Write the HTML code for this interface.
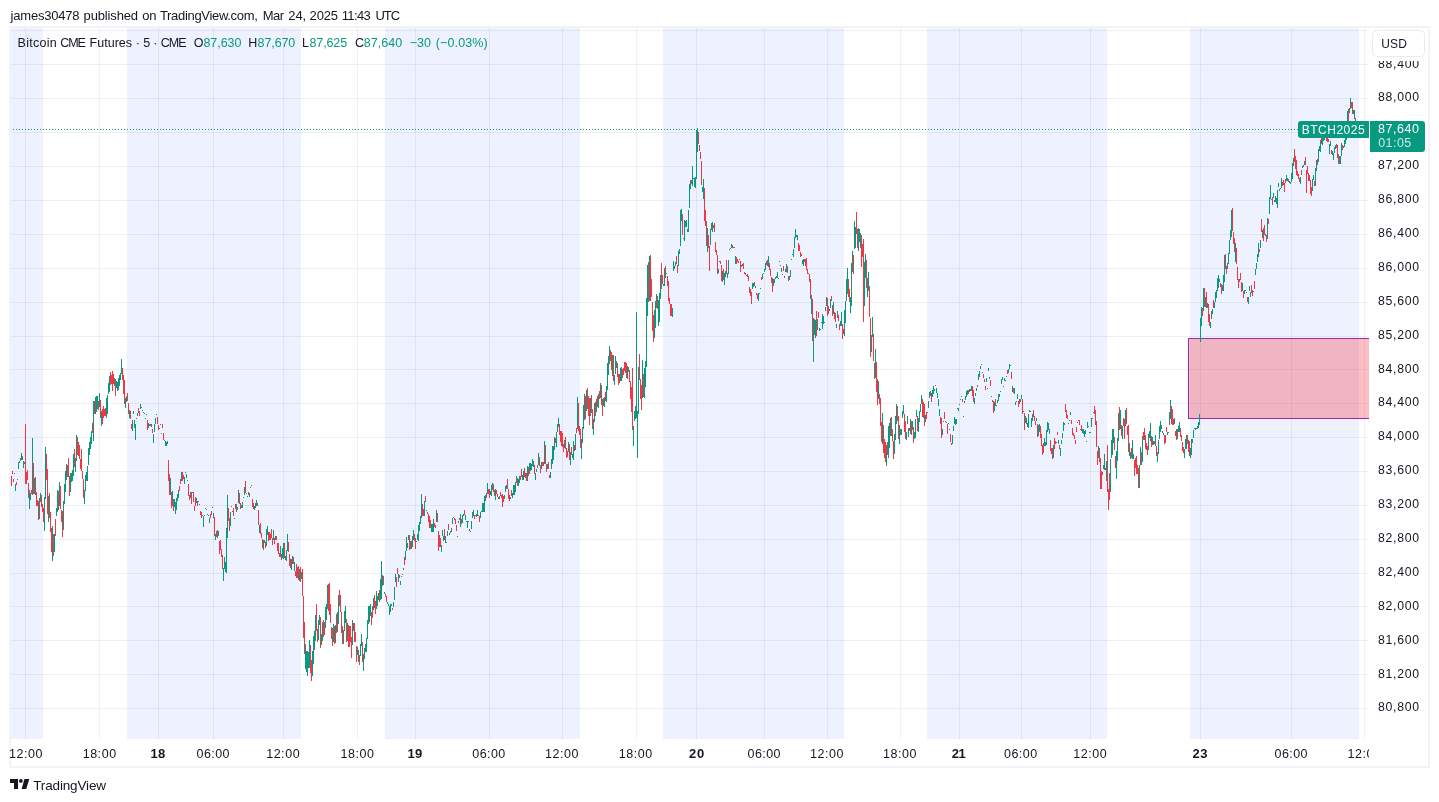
<!DOCTYPE html><html><head><meta charset="utf-8"><title>TradingView chart</title><style>
html,body{margin:0;padding:0;background:#fff}
body{width:1439px;height:802px;position:relative;overflow:hidden;font-family:"Liberation Sans",sans-serif;color:#131722}
.abs{position:absolute;white-space:nowrap}
#hdr{left:0;top:8px;font-size:13px;line-height:16px}
.w{position:absolute;top:0;white-space:nowrap}
#frame{left:9px;top:26px;width:1417px;height:738px;border:2px solid #f3f3f5;box-sizing:content-box;pointer-events:none}
#plot{left:10px;top:27px;width:1359px;height:712px;overflow:hidden}
.band{position:absolute;top:0;height:712px;background:#eef2fe}
.vg{position:absolute;top:0;width:1px;height:712px;background:rgba(42,46,57,.07)}
.hg{position:absolute;left:0;width:1359px;height:1px;background:rgba(42,46,57,.07)}
#lg{left:0;top:35px;font-size:12.5px;line-height:16px}
.g{color:#089981}
.pl{position:absolute;left:0;font-size:12.25px;line-height:14px;color:#131722}
#taxis{left:10px;top:739px;width:1359px;height:27px;overflow:hidden;font-size:12.5px;line-height:14px}
.b{font-weight:bold;font-size:13px}
#usdwrap{left:1370px;top:28px;width:58px;height:33px;background:#fff}
#usd{left:1372.2px;top:30.3px;width:51.1px;height:25.1px;border:1px solid #e9ebf0;border-radius:4.5px;box-sizing:content-box;background:#fff}
#usdt{left:0;top:36.7px;font-size:12px;line-height:14px}
#sym{left:1298px;top:121px;width:71px;height:17px;background:#089981;border-radius:3px 0 0 3px;color:#fff;font-size:12px;line-height:17px}
#symt{left:0;top:122px;font-size:12px;line-height:17px;color:#fff}
#prc{left:1370px;top:121px;width:55px;height:31px;background:#089981;border-radius:0 3px 3px 0;color:#fff;font-size:12px}
#prct{left:0;top:0;font-size:12.5px;line-height:14px;color:#fff}
#dot{left:10px;top:129px;width:1288px;height:1px;background:repeating-linear-gradient(90deg,#089981 0 1px,transparent 1px 3px)}
#box{left:1178px;top:311px;width:181px;height:81px;box-sizing:border-box;background:rgba(242,54,69,.32);border:1px solid #9c27b0;border-right:none}
#logo{left:10px;top:779px}
#tv{left:0;top:778px;font-size:13.5px;line-height:16px;color:#131722}

</style></head><body>
<div id="hdr" class="abs">
<span class="w " style="left:10.57px;letter-spacing:-0.209px;">james30478</span>
<span class="w " style="left:83.61px;letter-spacing:-0.148px;">published</span>
<span class="w " style="left:142.20px;letter-spacing:-0.270px;">on</span>
<span class="w " style="left:159.96px;letter-spacing:-0.319px;">TradingView.com,</span>
<span class="w " style="left:262.68px;letter-spacing:-0.453px;">Mar</span>
<span class="w " style="left:288.35px;letter-spacing:-0.150px;">24,</span>
<span class="w " style="left:309.60px;letter-spacing:-0.173px;">2025</span>
<span class="w " style="left:341.76px;letter-spacing:-0.643px;">11:43</span>
<span class="w " style="left:375.45px;letter-spacing:-1.060px;">UTC</span>
</div>
<div id="plot" class="abs">
<div class="band" style="left:0px;width:33px"></div>
<div class="band" style="left:117px;width:174px"></div>
<div class="band" style="left:375px;width:195px"></div>
<div class="band" style="left:653px;width:181px"></div>
<div class="band" style="left:917px;width:180px"></div>
<div class="band" style="left:1180px;width:169px"></div>
<div class="vg" style="left:15px"></div>
<div class="vg" style="left:89px"></div>
<div class="vg" style="left:148px"></div>
<div class="vg" style="left:203px"></div>
<div class="vg" style="left:273px"></div>
<div class="vg" style="left:347px"></div>
<div class="vg" style="left:405px"></div>
<div class="vg" style="left:479px"></div>
<div class="vg" style="left:552px"></div>
<div class="vg" style="left:626px"></div>
<div class="vg" style="left:686px"></div>
<div class="vg" style="left:754px"></div>
<div class="vg" style="left:817px"></div>
<div class="vg" style="left:890px"></div>
<div class="vg" style="left:949px"></div>
<div class="vg" style="left:1011px"></div>
<div class="vg" style="left:1080px"></div>
<div class="vg" style="left:1190px"></div>
<div class="vg" style="left:1281px"></div>
<div class="vg" style="left:1354px"></div>
<div class="hg" style="top:3px"></div>
<div class="hg" style="top:37px"></div>
<div class="hg" style="top:71px"></div>
<div class="hg" style="top:105px"></div>
<div class="hg" style="top:139px"></div>
<div class="hg" style="top:173px"></div>
<div class="hg" style="top:207px"></div>
<div class="hg" style="top:241px"></div>
<div class="hg" style="top:275px"></div>
<div class="hg" style="top:309px"></div>
<div class="hg" style="top:342px"></div>
<div class="hg" style="top:376px"></div>
<div class="hg" style="top:410px"></div>
<div class="hg" style="top:444px"></div>
<div class="hg" style="top:478px"></div>
<div class="hg" style="top:512px"></div>
<div class="hg" style="top:546px"></div>
<div class="hg" style="top:579px"></div>
<div class="hg" style="top:613px"></div>
<div class="hg" style="top:647px"></div>
<div class="hg" style="top:681px"></div>
<div id="box" class="abs"></div>
<svg style="position:absolute;left:0;top:0" width="1359" height="712" shape-rendering="crispEdges" fill="none"><path stroke="#f23645" stroke-width="1" d="M0.5 448V457M1.5 449V459M2.5 444V447M3.5 452V455M6.5 455V458M10.5 431V434M15.5 397V457M16.5 445V457M17.5 443V453M18.5 456V471M21.5 463V467M23.5 436V467M25.5 450V468M26.5 465V479M27.5 473V479M28.5 474V493M31.5 468V480M32.5 477V485M33.5 481V495M36.5 427V453M37.5 442V487M39.5 466V491M40.5 485V505M41.5 501V525M43.5 507V529M45.5 492V509M48.5 464V483M50.5 459V482M51.5 483V495M52.5 484V510M57.5 438V450M58.5 431V450M59.5 449V469M64.5 422V440M67.5 410V428M68.5 415V429M69.5 418V432M70.5 432V442M71.5 422V444M72.5 444V452M73.5 452V471M82.5 396V406M84.5 374V387M88.5 374V383M90.5 373V391M92.5 382V397M93.5 379V391M94.5 382V389M95.5 381V389M100.5 345V358M101.5 348V357M102.5 344V364M103.5 347V357M105.5 352V369M112.5 341V353M113.5 348V367M114.5 353V377M117.5 366V374M118.5 376V387M120.5 384V392M121.5 397V402M128.5 381V386M129.5 384V389M131.5 380V381M137.5 393V403M139.5 397V399M140.5 397V399M142.5 402V406M147.5 390V397M148.5 398V403M149.5 401V402M152.5 397V401M153.5 406V413M154.5 413V414M158.5 433V454M159.5 447V468M161.5 465V481M163.5 472V484M169.5 459V464M170.5 452V457M172.5 445V454M173.5 448V452M175.5 445V446M178.5 457V469M179.5 468V473M181.5 465V477M183.5 465V475M184.5 479V484M185.5 470V479M187.5 474V479M190.5 484V488M191.5 485V491M200.5 487V491M201.5 484V488M204.5 490V509M207.5 503V511M209.5 514V527M210.5 513V523M211.5 522V530M212.5 528V542M218.5 481V494M219.5 491V504M223.5 481V489M225.5 477V482M227.5 480V483M229.5 466V477M230.5 476V482M235.5 454V466M236.5 466V467M238.5 465V468M240.5 460V461M242.5 472V480M243.5 476V482M247.5 476V479M248.5 483V498M250.5 496V507M251.5 506V511M252.5 512V521M255.5 515V521M258.5 505V514M259.5 505V513M260.5 507V513M261.5 502V511M262.5 511V518M264.5 511V517M266.5 509V513M267.5 516V524M268.5 516V527M269.5 526V530M271.5 527V533M274.5 516V531M278.5 515V525M279.5 527V539M280.5 532V541M283.5 530V537M285.5 544V549M286.5 537V551M287.5 540V551M288.5 539V553M290.5 540V555M292.5 542V569M293.5 569V611M294.5 595V627M300.5 618V646M301.5 633V654M306.5 577V604M307.5 602V615M310.5 590V621M313.5 593V610M314.5 595V608M318.5 557V584M319.5 556V588M320.5 577V596M321.5 600V612M322.5 601V619M324.5 599V617M326.5 587V606M329.5 563V579M330.5 568V585M331.5 585V606M332.5 599V617M336.5 592V615M338.5 598V620M339.5 599V620M340.5 599V615M341.5 610V631M343.5 596V604M344.5 596V615M345.5 605V615M346.5 619V635M349.5 628V638M352.5 615V635M361.5 585V598M362.5 579V591M364.5 568V581M365.5 574V587M369.5 563V575M373.5 549V558M375.5 567V570M376.5 569V575M382.5 581V583M386.5 550V560M387.5 541V547M389.5 548V551M392.5 547V548M394.5 530V538M399.5 508V523M400.5 514V522M404.5 507V514M405.5 511V522M412.5 477V489M413.5 482V489M415.5 469V475M417.5 485V487M418.5 487V495M419.5 489V501M420.5 493V501M424.5 496V500M425.5 498V501M427.5 486V495M428.5 504V524M429.5 508V520M430.5 511V520M434.5 502V513M438.5 497V503M444.5 491V493M445.5 492V497M446.5 498V504M449.5 491V493M451.5 492V497M454.5 483V488M459.5 502V504M464.5 488V492M465.5 488V489M469.5 489V495M476.5 466V471M478.5 462V467M479.5 462V471M483.5 457V465M484.5 463V469M486.5 463V467M487.5 467V470M488.5 470V472M490.5 465V469M491.5 468V471M492.5 467V480M493.5 469V475M497.5 452V462M498.5 462V472M499.5 468V474M501.5 463V469M507.5 451V459M510.5 449V453M511.5 442V450M514.5 441V450M515.5 446V451M516.5 446V454M518.5 440V449M524.5 438V447M529.5 430V439M530.5 438V446M532.5 435V439M533.5 435V439M535.5 418V437M536.5 437V445M538.5 435V442M539.5 448V451M545.5 411V416M549.5 397V408M550.5 404V415M551.5 404V419M552.5 406V420M553.5 417V425M555.5 410V422M556.5 421V431M557.5 424V430M559.5 417V433M561.5 420V428M564.5 418V424M566.5 401V406M568.5 376V404M569.5 399V408M570.5 402V421M575.5 369V392M577.5 361V382M578.5 369V389M579.5 371V398M581.5 368V386M582.5 382V402M585.5 375V389M587.5 369V380M589.5 364V372M591.5 358V378M592.5 372V389M595.5 365V374M600.5 323V334M601.5 325V343M603.5 328V354M607.5 336V350M608.5 347V358M609.5 347V356M612.5 342V351M613.5 341V348M614.5 335V344M615.5 335V346M616.5 336V351M619.5 343V355M620.5 354V372M621.5 360V385M622.5 341V403M629.5 327V353M630.5 352V372M631.5 358V383M633.5 347V370M638.5 235V275M640.5 228V274M641.5 252V270M642.5 275V304M643.5 288V315M647.5 269V282M651.5 236V262M652.5 248V257M655.5 239V251M657.5 249V259M658.5 254V274M659.5 271V277M660.5 277V289M661.5 277V289M666.5 229V237M667.5 238V246M672.5 187V208M681.5 153V157M688.5 105V117M689.5 118V124M690.5 125V132M691.5 134V158M694.5 161V194M695.5 183V199M696.5 194V219M698.5 208V221M699.5 219V244M703.5 198V201M704.5 196V205M705.5 215V225M706.5 223V228M707.5 228V247M710.5 234V237M711.5 238V254M713.5 242V253M716.5 233V247M722.5 218V221M724.5 220V221M726.5 230V237M727.5 232V235M728.5 234V236M730.5 234V245M733.5 236V242M734.5 245V247M735.5 246V248M737.5 247V250M738.5 249V254M739.5 260V266M740.5 262V269M741.5 265V277M744.5 255V259M746.5 266V268M747.5 267V272M751.5 250V253M757.5 233V239M759.5 236V243M760.5 242V249M761.5 250V256M762.5 251V265M773.5 239V244M777.5 239V246M778.5 249V254M788.5 216V224M789.5 218V224M790.5 225V230M791.5 227V229M794.5 232V235M795.5 232V239M796.5 231V243M797.5 242V247M798.5 246V247M799.5 247V255M800.5 252V272M802.5 272V314M806.5 284V309M808.5 285V291M817.5 271V289M818.5 279V287M821.5 269V274M822.5 278V289M824.5 285V292M825.5 286V295M828.5 288V294M829.5 297V303M832.5 297V312M833.5 302V307M838.5 252V270M839.5 262V275M843.5 228V247M846.5 185V207M847.5 202V221M851.5 208V240M852.5 217V230M853.5 212V295M856.5 233V261M859.5 259V290M860.5 291V330M863.5 307V334M864.5 336V352M866.5 335V365M867.5 352V378M869.5 367V377M870.5 371V399M871.5 395V415M873.5 398V426M874.5 412V431M875.5 415V435M877.5 415V428M881.5 390V409M882.5 402V414M883.5 414V432M887.5 379V394M888.5 389V412M894.5 387V405M895.5 394V412M899.5 401V404M901.5 394V408M903.5 400V416M907.5 389V404M912.5 372V390M913.5 375V391M914.5 377V399M916.5 385V392M921.5 366V375M925.5 358V359M930.5 390V397M931.5 391V411M934.5 385V392M937.5 397V407M940.5 407V415M941.5 416V418M952.5 372V375M958.5 363V367M962.5 359V369M963.5 363V375M967.5 358V360M973.5 347V351M974.5 352V355M975.5 359V363M980.5 353V359M983.5 374V386M985.5 372V379M995.5 353V354M997.5 343V347M1001.5 345V352M1003.5 361V366M1008.5 374V380M1009.5 372V377M1012.5 372V387M1013.5 384V385M1014.5 386V403M1023.5 383V390M1024.5 389V394M1025.5 394V398M1027.5 397V410M1030.5 399V411M1031.5 407V419M1032.5 418V428M1033.5 416V426M1040.5 413V424M1041.5 421V427M1042.5 421V432M1044.5 411V422M1045.5 414V417M1047.5 405V408M1049.5 418V422M1055.5 377V385M1056.5 383V391M1057.5 388V392M1061.5 393V397M1062.5 401V408M1063.5 406V409M1064.5 408V412M1065.5 413V417M1066.5 400V405M1067.5 395V396M1068.5 393V394M1069.5 393V398M1070.5 402V403M1071.5 398V404M1084.5 379V387M1085.5 383V398M1086.5 394V420M1087.5 424V438M1089.5 421V435M1090.5 431V462M1091.5 444V462M1092.5 445V448M1097.5 418V465M1098.5 462V483M1099.5 446V473M1104.5 410V423M1105.5 429V441M1109.5 380V403M1111.5 398V409M1113.5 391V399M1114.5 392V412M1116.5 381V397M1117.5 399V408M1118.5 398V425M1121.5 421V431M1124.5 433V449M1125.5 431V441M1126.5 429V447M1127.5 438V447M1128.5 441V461M1131.5 425V438M1133.5 405V413M1134.5 401V413M1135.5 408V422M1136.5 416V423M1137.5 419V428M1141.5 409V420M1143.5 414V418M1144.5 414V417M1146.5 419V429M1152.5 404V406M1154.5 408V417M1155.5 408V416M1156.5 400V405M1161.5 379V397M1162.5 382V398M1163.5 392V398M1165.5 404V409M1166.5 402V413M1170.5 401V410M1171.5 408V414M1172.5 415V424M1173.5 420V426M1177.5 408V417M1178.5 413V425M1179.5 414V429M1192.5 281V289M1194.5 261V280M1196.5 265V281M1198.5 277V295M1199.5 287V299M1203.5 273V281M1210.5 256V260M1211.5 257V267M1215.5 227V242M1216.5 239V247M1222.5 181V204M1223.5 205V217M1224.5 211V225M1226.5 221V237M1227.5 240V253M1228.5 252V261M1229.5 252V255M1230.5 246V253M1231.5 255V265M1233.5 264V271M1237.5 270V275M1241.5 258V266M1242.5 263V269M1244.5 254V262M1249.5 222V225M1251.5 192V205M1253.5 201V214M1254.5 198V208M1255.5 207V209M1256.5 208V215M1258.5 192V197M1262.5 170V178M1272.5 155V159M1273.5 153V158M1274.5 156V165M1275.5 152V156M1278.5 152V155M1284.5 122V135M1285.5 129V142M1286.5 133V148M1287.5 144V149M1288.5 147V152M1289.5 151V155M1291.5 143V148M1295.5 130V138M1296.5 143V166M1297.5 139V147M1298.5 146V154M1299.5 148V154M1300.5 153V167M1301.5 160V169M1304.5 154V159M1307.5 132V138M1311.5 108V117M1316.5 104V114M1317.5 107V115M1318.5 112V115M1321.5 123V127M1326.5 117V121M1327.5 118V131M1328.5 127V137M1332.5 118V123M1338.5 82V94M1341.5 75V81M1342.5 75V87M1345.5 91V95"/><path stroke="#089981" stroke-width="1" d="M4.5 446V447M5.5 457V464M7.5 452V453M8.5 435V442M9.5 434V436M11.5 426V433M12.5 429V433M13.5 434V441M14.5 435V437M19.5 463V482M20.5 466V473M22.5 411V468M24.5 451V467M29.5 471V492M30.5 466V475M34.5 470V504M35.5 420V472M38.5 469V495M42.5 499V534M44.5 507V525M46.5 481V489M47.5 463V485M49.5 455V479M53.5 474V503M54.5 457V477M55.5 444V465M56.5 437V453M60.5 446V465M61.5 446V455M62.5 443V454M63.5 427V449M65.5 431V445M66.5 408V434M74.5 463V477M75.5 448V464M76.5 445V454M77.5 439V454M78.5 421V438M79.5 415V428M80.5 410V422M81.5 404V417M83.5 374V414M85.5 370V387M86.5 369V385M87.5 369V382M89.5 366V380M91.5 384V399M96.5 371V391M97.5 368V387M98.5 356V367M99.5 349V365M104.5 351V359M106.5 354V361M107.5 355V364M108.5 351V363M109.5 348V359M110.5 346V353M111.5 332V347M115.5 371V381M116.5 369V375M119.5 383V391M122.5 393V404M123.5 384V387M124.5 393V401M125.5 397V413M126.5 391V392M127.5 386V389M130.5 377V382M132.5 383V384M133.5 385V386M134.5 386V387M135.5 391V392M136.5 387V388M138.5 396V401M141.5 397V400M143.5 407V416M144.5 397V405M145.5 391V397M146.5 387V388M150.5 397V398M151.5 406V407M155.5 414V419M156.5 415V419M157.5 414V417M160.5 451V468M162.5 464V479M164.5 472V480M165.5 475V487M166.5 471V483M167.5 467V474M168.5 463V471M171.5 445V454M174.5 450V457M176.5 447V451M177.5 453V454M180.5 465V471M182.5 465V466M186.5 471V476M188.5 474V475M189.5 477V478M192.5 488V489M193.5 489V500M194.5 488V489M195.5 481V482M196.5 482V483M197.5 487V488M198.5 488V489M199.5 491V496M202.5 480V481M203.5 486V491M205.5 507V513M206.5 504V510M208.5 504V509M213.5 541V554M214.5 530V542M215.5 535V545M216.5 501V546M217.5 468V511M220.5 485V499M221.5 479V480M222.5 484V485M224.5 491V492M226.5 477V485M228.5 463V476M231.5 478V481M232.5 475V481M233.5 470V471M234.5 460V468M237.5 469V470M239.5 466V470M241.5 458V459M244.5 479V483M245.5 476V481M246.5 473V479M249.5 498V506M253.5 513V523M254.5 513V516M256.5 502V519M257.5 499V508M263.5 503V513M265.5 509V513M270.5 519V530M272.5 521V531M273.5 516V532M275.5 529V533M276.5 523V534M277.5 507V524M281.5 532V543M282.5 529V537M284.5 535V544M289.5 542V554M291.5 545V552M295.5 617V642M296.5 624V645M297.5 624V649M298.5 625V641M299.5 613V641M302.5 624V649M303.5 609V637M304.5 604V623M305.5 588V614M308.5 593V613M309.5 588V598M311.5 607V618M312.5 595V614M315.5 580V601M316.5 577V593M317.5 558V582M323.5 597V615M325.5 598V616M327.5 585V605M328.5 568V597M333.5 603V617M334.5 584V604M335.5 579V596M337.5 596V614M342.5 593V618M347.5 620V628M348.5 623V635M350.5 617V629M351.5 607V619M353.5 627V644M354.5 621V632M355.5 617V625M356.5 611V625M357.5 593V612M358.5 579V597M359.5 579V595M360.5 577V589M363.5 571V583M366.5 564V582M367.5 569V579M368.5 566V573M370.5 552V573M371.5 534V572M372.5 548V559M374.5 565V567M377.5 575V577M378.5 577V579M379.5 579V588M380.5 577V585M381.5 577V579M383.5 575V580M384.5 560V573M385.5 547V555M388.5 547V555M390.5 554V558M391.5 549V550M393.5 541V543M395.5 524V533M396.5 510V524M397.5 516V521M398.5 508V513M401.5 514V522M402.5 509V520M403.5 503V513M406.5 514V515M407.5 507V513M408.5 498V514M409.5 495V504M410.5 489V497M411.5 467V491M414.5 474V489M416.5 483V484M421.5 497V505M422.5 497V505M423.5 492V505M426.5 483V495M431.5 518V525M432.5 503V509M433.5 509V514M435.5 509V516M436.5 515V516M437.5 504V509M439.5 506V508M440.5 504V506M441.5 501V505M442.5 491V497M443.5 490V491M447.5 509V510M448.5 494V496M450.5 487V500M452.5 488V496M453.5 487V489M455.5 488V493M456.5 494V495M457.5 494V501M458.5 494V495M460.5 504V505M461.5 494V502M462.5 485V491M463.5 483V489M466.5 487V490M467.5 483V489M468.5 488V489M470.5 485V491M471.5 484V485M472.5 476V485M473.5 476V485M474.5 469V485M475.5 468V474M477.5 456V467M480.5 464V468M481.5 458V469M482.5 456V463M485.5 462V473M489.5 469V472M494.5 468V472M495.5 459V465M496.5 458V462M500.5 470V472M502.5 466V471M503.5 458V468M504.5 458V468M505.5 455V465M506.5 449V456M508.5 452V459M509.5 449V456M512.5 448V453M513.5 444V453M517.5 439V454M519.5 436V447M520.5 436V444M521.5 437V443M522.5 432V439M523.5 434V440M525.5 446V453M526.5 442V445M527.5 438V441M528.5 426V438M531.5 435V442M534.5 414V437M537.5 437V442M540.5 445V451M541.5 432V442M542.5 419V437M543.5 419V433M544.5 410V423M546.5 405V420M547.5 397V405M548.5 391V400M554.5 413V421M558.5 415V425M560.5 425V438M562.5 427V431M563.5 414V433M565.5 407V423M567.5 370V402M571.5 412V432M572.5 400V416M573.5 378V402M574.5 367V393M576.5 363V384M580.5 371V389M583.5 392V408M584.5 376V395M586.5 372V385M588.5 367V381M590.5 356V371M593.5 371V379M594.5 370V380M596.5 359V375M597.5 336V363M598.5 329V348M599.5 319V337M602.5 328V349M604.5 348V358M605.5 329V347M606.5 334V341M610.5 341V354M611.5 340V354M617.5 339V352M618.5 340V345M623.5 399V419M624.5 384V394M625.5 379V392M626.5 285V391M627.5 384V431M628.5 340V387M632.5 333V371M634.5 341V371M635.5 334V360M636.5 271V340M637.5 238V289M639.5 229V274M644.5 283V311M645.5 274V301M646.5 267V281M648.5 273V299M649.5 266V295M650.5 248V272M653.5 257V259M654.5 241V259M656.5 246V247M662.5 281V290M663.5 234V244M664.5 239V242M665.5 235V239M668.5 224V239M669.5 222V227M670.5 183V219M671.5 182V194M673.5 211V212M674.5 193V214M675.5 194V200M676.5 193V200M677.5 202V205M678.5 183V205M679.5 157V181M680.5 153V162M682.5 139V159M683.5 151V152M684.5 151V160M685.5 150V161M686.5 103V152M687.5 101V125M692.5 160V165M693.5 152V172M697.5 201V225M700.5 202V218M701.5 196V203M702.5 195V205M708.5 242V246M709.5 234V235M712.5 244V255M714.5 246V258M715.5 244V250M717.5 246V251M718.5 233V247M719.5 222V223M720.5 221V222M721.5 217V221M723.5 220V221M725.5 229V237M729.5 232V233M731.5 238V240M732.5 237V239M736.5 248V249M742.5 256V262M743.5 256V260M745.5 259V261M748.5 266V274M749.5 266V267M750.5 261V262M752.5 247V252M753.5 246V247M754.5 242V245M755.5 236V243M756.5 234V238M758.5 229V240M763.5 252V259M764.5 252V256M765.5 250V252M766.5 249V251M767.5 245V251M768.5 251V252M769.5 234V235M770.5 238V239M771.5 241V245M772.5 247V248M774.5 249V251M775.5 242V245M776.5 237V245M779.5 249V253M780.5 243V250M781.5 232V233M782.5 227V228M783.5 222V230M784.5 210V221M785.5 202V211M786.5 208V210M787.5 208V213M792.5 233V237M793.5 232V239M801.5 268V287M803.5 291V335M804.5 292V308M805.5 293V311M807.5 292V303M809.5 301V304M810.5 302V303M811.5 295V296M812.5 287V302M813.5 289V297M814.5 295V296M815.5 280V284M816.5 270V279M819.5 282V284M820.5 272V281M823.5 275V287M826.5 297V301M827.5 284V291M830.5 294V299M831.5 285V299M834.5 283V309M835.5 274V296M836.5 252V274M837.5 241V267M840.5 270V286M841.5 236V279M842.5 224V245M844.5 194V222M845.5 200V221M848.5 201V224M849.5 202V215M850.5 206V221M854.5 235V279M855.5 227V251M857.5 251V270M858.5 245V264M861.5 308V325M862.5 290V310M865.5 322V351M868.5 354V372M872.5 386V417M876.5 418V439M878.5 399V431M879.5 396V421M880.5 391V409M884.5 407V427M885.5 389V413M886.5 377V397M889.5 398V417M890.5 402V408M891.5 402V408M892.5 384V391M893.5 378V387M896.5 405V413M897.5 389V397M898.5 401V410M900.5 392V407M902.5 394V403M904.5 405V412M905.5 392V411M906.5 383V390M908.5 391V405M909.5 384V395M910.5 377V385M911.5 368V377M915.5 388V395M917.5 385V386M918.5 374V381M919.5 365V371M920.5 364V369M922.5 363V370M923.5 359V367M924.5 362V364M926.5 361V366M927.5 366V371M928.5 372V379M929.5 382V389M932.5 402V408M933.5 394V395M935.5 394V395M936.5 395V396M938.5 396V397M939.5 402V403M942.5 408V417M943.5 399V404M944.5 390V397M945.5 392V398M946.5 392V397M947.5 381V382M948.5 381V384M949.5 377V378M950.5 372V373M951.5 369V370M953.5 389V390M954.5 374V376M955.5 369V373M956.5 364V370M957.5 363V368M959.5 362V365M960.5 362V364M961.5 359V364M964.5 371V377M965.5 366V369M966.5 361V364M968.5 347V353M969.5 344V350M970.5 339V342M971.5 337V338M972.5 345V346M976.5 351V355M977.5 361V362M978.5 341V344M979.5 350V352M981.5 369V370M982.5 373V375M984.5 375V384M986.5 378V379M987.5 373V376M988.5 367V374M989.5 367V370M990.5 364V365M991.5 352V357M992.5 350V353M993.5 359V360M994.5 351V354M996.5 349V350M998.5 342V346M999.5 337V342M1000.5 338V339M1002.5 359V365M1004.5 361V367M1005.5 375V378M1006.5 374V375M1007.5 367V372M1010.5 372V375M1011.5 368V372M1015.5 389V396M1016.5 391V397M1017.5 396V400M1018.5 387V401M1019.5 383V385M1020.5 384V385M1021.5 391V400M1022.5 387V394M1026.5 391V394M1028.5 398V409M1029.5 397V405M1034.5 411V419M1035.5 415V419M1036.5 403V418M1037.5 395V405M1038.5 396V403M1039.5 402V407M1043.5 418V431M1046.5 415V416M1048.5 413V417M1050.5 421V429M1051.5 413V417M1052.5 406V411M1053.5 395V404M1054.5 396V398M1058.5 396V397M1059.5 393V394M1060.5 385V388M1072.5 402V406M1073.5 402V407M1074.5 404V410M1075.5 403V407M1076.5 414V415M1077.5 395V401M1078.5 399V400M1079.5 405V406M1080.5 405V406M1081.5 391V400M1082.5 391V392M1083.5 385V386M1088.5 419V431M1093.5 438V442M1094.5 427V443M1095.5 441V443M1096.5 434V454M1100.5 432V465M1101.5 413V431M1102.5 402V428M1103.5 402V416M1106.5 424V452M1107.5 411V434M1108.5 386V414M1110.5 383V402M1112.5 399V412M1115.5 383V399M1119.5 416V429M1120.5 425V432M1122.5 413V432M1123.5 427V432M1129.5 438V461M1130.5 420V438M1132.5 409V435M1138.5 407V423M1139.5 404V411M1140.5 396V414M1142.5 410V418M1145.5 408V419M1147.5 425V435M1148.5 413V427M1149.5 399V412M1150.5 394V405M1151.5 398V402M1153.5 406V408M1157.5 405V408M1158.5 405V406M1159.5 385V398M1160.5 373V392M1164.5 391V397M1167.5 402V412M1168.5 399V405M1169.5 395V405M1174.5 422V431M1175.5 412V422M1176.5 408V422M1180.5 421V431M1181.5 412V428M1182.5 412V416M1183.5 403V411M1184.5 401V402M1185.5 401V403M1186.5 401V402M1187.5 399V402M1188.5 395V401M1189.5 387V398M1190.5 291V315M1191.5 280V299M1193.5 261V284M1195.5 270V280M1197.5 276V281M1200.5 295V301M1201.5 284V292M1202.5 282V287M1204.5 275V281M1205.5 265V275M1206.5 263V271M1207.5 251V264M1208.5 248V261M1209.5 252V255M1212.5 258V264M1213.5 248V264M1214.5 228V255M1217.5 236V242M1218.5 226V237M1219.5 213V227M1220.5 203V213M1221.5 183V210M1225.5 216V235M1232.5 256V264M1234.5 263V267M1235.5 263V264M1236.5 265V266M1238.5 270V277M1239.5 259V264M1240.5 265V270M1243.5 264V265M1245.5 242V248M1246.5 236V242M1247.5 227V235M1248.5 216V230M1250.5 213V221M1252.5 203V211M1257.5 191V212M1259.5 170V187M1260.5 158V172M1261.5 172V173M1263.5 166V171M1264.5 173V175M1265.5 169V175M1266.5 171V177M1267.5 163V181M1268.5 156V160M1269.5 162V164M1270.5 161V162M1271.5 151V161M1276.5 148V154M1277.5 151V154M1279.5 154V156M1280.5 155V157M1281.5 146V155M1282.5 136V152M1283.5 131V139M1290.5 150V157M1292.5 139V141M1293.5 138V140M1294.5 134V138M1302.5 152V164M1303.5 148V153M1305.5 141V159M1306.5 133V144M1308.5 122V135M1309.5 119V124M1310.5 113V125M1312.5 105V118M1313.5 104V114M1314.5 105V113M1315.5 103V111M1319.5 117V127M1320.5 114V119M1322.5 124V128M1323.5 126V133M1324.5 120V126M1325.5 118V122M1329.5 129V137M1330.5 129V137M1331.5 116V129M1333.5 119V121M1334.5 113V120M1335.5 108V117M1336.5 99V113M1337.5 84V101M1339.5 81V86M1340.5 71V82M1343.5 83V87M1344.5 83V92"/></svg>
</div>
<div id="dot" class="abs"></div>
<div id="frame" class="abs"></div>
<div id="paxis" class="abs" style="left:0;top:0">
<div class="pl" style="top:56.64px"><span class="w " style="left:1378.12px;letter-spacing:0.689px;">88,400</span></div>
<div class="pl" style="top:89.64px"><span class="w " style="left:1378.12px;letter-spacing:0.689px;">88,000</span></div>
<div class="pl" style="top:157.64px"><span class="w " style="left:1378.12px;letter-spacing:0.689px;">87,200</span></div>
<div class="pl" style="top:191.64px"><span class="w " style="left:1378.12px;letter-spacing:0.689px;">86,800</span></div>
<div class="pl" style="top:225.64px"><span class="w " style="left:1378.12px;letter-spacing:0.689px;">86,400</span></div>
<div class="pl" style="top:259.64px"><span class="w " style="left:1378.12px;letter-spacing:0.689px;">86,000</span></div>
<div class="pl" style="top:293.64px"><span class="w " style="left:1378.12px;letter-spacing:0.689px;">85,600</span></div>
<div class="pl" style="top:327.64px"><span class="w " style="left:1378.12px;letter-spacing:0.689px;">85,200</span></div>
<div class="pl" style="top:361.64px"><span class="w " style="left:1378.12px;letter-spacing:0.689px;">84,800</span></div>
<div class="pl" style="top:394.64px"><span class="w " style="left:1378.12px;letter-spacing:0.689px;">84,400</span></div>
<div class="pl" style="top:428.64px"><span class="w " style="left:1378.12px;letter-spacing:0.689px;">84,000</span></div>
<div class="pl" style="top:462.64px"><span class="w " style="left:1378.12px;letter-spacing:0.689px;">83,600</span></div>
<div class="pl" style="top:496.64px"><span class="w " style="left:1378.12px;letter-spacing:0.689px;">83,200</span></div>
<div class="pl" style="top:530.64px"><span class="w " style="left:1378.12px;letter-spacing:0.689px;">82,800</span></div>
<div class="pl" style="top:564.64px"><span class="w " style="left:1378.12px;letter-spacing:0.689px;">82,400</span></div>
<div class="pl" style="top:598.64px"><span class="w " style="left:1378.12px;letter-spacing:0.689px;">82,000</span></div>
<div class="pl" style="top:632.64px"><span class="w " style="left:1378.12px;letter-spacing:0.689px;">81,600</span></div>
<div class="pl" style="top:666.64px"><span class="w " style="left:1378.12px;letter-spacing:0.689px;">81,200</span></div>
<div class="pl" style="top:699.64px"><span class="w " style="left:1378.12px;letter-spacing:0.689px;">80,800</span></div>
</div>
<div id="usdwrap" class="abs"></div><div id="usd" class="abs"></div><div id="usdt" class="abs"><span class="w " style="left:1381.32px;letter-spacing:0.082px;">USD</span></div>
<div id="sym" class="abs"></div><div id="symt" class="abs"><span class="w " style="left:1301.67px;letter-spacing:0.518px;">BTCH2025</span></div>
<div id="prc" class="abs"></div><div id="prct" class="abs"><span class="w " style="left:1378.11px;letter-spacing:0.540px;top:121.6px">87,640</span><span class="w " style="left:1378.16px;letter-spacing:0.458px;top:136.1px;opacity:.78">01:05</span></div>
<div id="taxis" class="abs">
<span class="w " style="left:-0.95px;letter-spacing:0.540px;top:7.6px">12:00</span>
<span class="w " style="left:72.65px;letter-spacing:0.540px;top:7.6px">18:00</span>
<span class="w b" style="left:140.43px;letter-spacing:0.459px;top:7.6px">18</span>
<span class="w " style="left:186.51px;letter-spacing:0.424px;top:7.6px">06:00</span>
<span class="w " style="left:256.15px;letter-spacing:0.540px;top:7.6px">12:00</span>
<span class="w " style="left:330.55px;letter-spacing:0.540px;top:7.6px">18:00</span>
<span class="w b" style="left:397.53px;letter-spacing:0.141px;top:7.6px">19</span>
<span class="w " style="left:462.31px;letter-spacing:0.424px;top:7.6px">06:00</span>
<span class="w " style="left:534.95px;letter-spacing:0.540px;top:7.6px">12:00</span>
<span class="w " style="left:608.85px;letter-spacing:0.540px;top:7.6px">18:00</span>
<span class="w b" style="left:678.90px;letter-spacing:0.824px;top:7.6px">20</span>
<span class="w " style="left:737.51px;letter-spacing:0.424px;top:7.6px">06:00</span>
<span class="w " style="left:800.05px;letter-spacing:0.540px;top:7.6px">12:00</span>
<span class="w " style="left:873.05px;letter-spacing:0.540px;top:7.6px">18:00</span>
<span class="w b" style="left:941.70px;letter-spacing:-0.347px;top:7.6px">21</span>
<span class="w " style="left:994.11px;letter-spacing:0.424px;top:7.6px">06:00</span>
<span class="w " style="left:1063.25px;letter-spacing:0.540px;top:7.6px">12:00</span>
<span class="w b" style="left:1182.50px;letter-spacing:0.560px;top:7.6px">23</span>
<span class="w " style="left:1264.51px;letter-spacing:0.424px;top:7.6px">06:00</span>
<span class="w " style="left:1337.55px;letter-spacing:0.540px;top:7.6px">12:00</span>
</div>
<div id="lg" class="abs">
<span class="w " style="left:17.62px;letter-spacing:0.278px;">Bitcoin</span>
<span class="w " style="left:60.22px;letter-spacing:-1.053px;">CME</span>
<span class="w " style="left:89.47px;letter-spacing:0.042px;">Futures</span>
<span class="w " style="left:135.77px;letter-spacing:0.000px;">·</span>
<span class="w " style="left:143.25px;letter-spacing:0.000px;">5</span>
<span class="w " style="left:153.17px;letter-spacing:0.000px;">·</span>
<span class="w " style="left:160.87px;letter-spacing:-1.053px;">CME</span>
<span class="w " style="left:193.66px;letter-spacing:0.000px;">O</span>
<span class="w g" style="left:203.46px;letter-spacing:-0.040px;">87,630</span>
<span class="w " style="left:248.22px;letter-spacing:0.000px;">H</span>
<span class="w g" style="left:257.61px;letter-spacing:-0.120px;">87,670</span>
<span class="w " style="left:301.97px;letter-spacing:0.000px;">L</span>
<span class="w g" style="left:309.46px;letter-spacing:-0.103px;">87,625</span>
<span class="w " style="left:355.02px;letter-spacing:0.000px;">C</span>
<span class="w g" style="left:363.71px;letter-spacing:0.040px;">87,640</span>
<span class="w g" style="left:409.63px;letter-spacing:0.001px;">−30</span>
<span class="w g" style="left:435.72px;letter-spacing:0.140px;">(−0.03%)</span>
</div>
<svg id="logo" class="abs" width="19.3" height="9.9" viewBox="0 0 36 18.5"><path fill="#131722" d="M15 18.5H7.5V7.5H0V0h15v18.5zM36 0L30.3 18.5h-8.6L27 0h9z"/><circle fill="#131722" cx="20.3" cy="3.6" r="3.5"/></svg>
<div id="tv" class="abs"><span class="w " style="left:33.25px;letter-spacing:-0.156px;">TradingView</span></div>
</body></html>
